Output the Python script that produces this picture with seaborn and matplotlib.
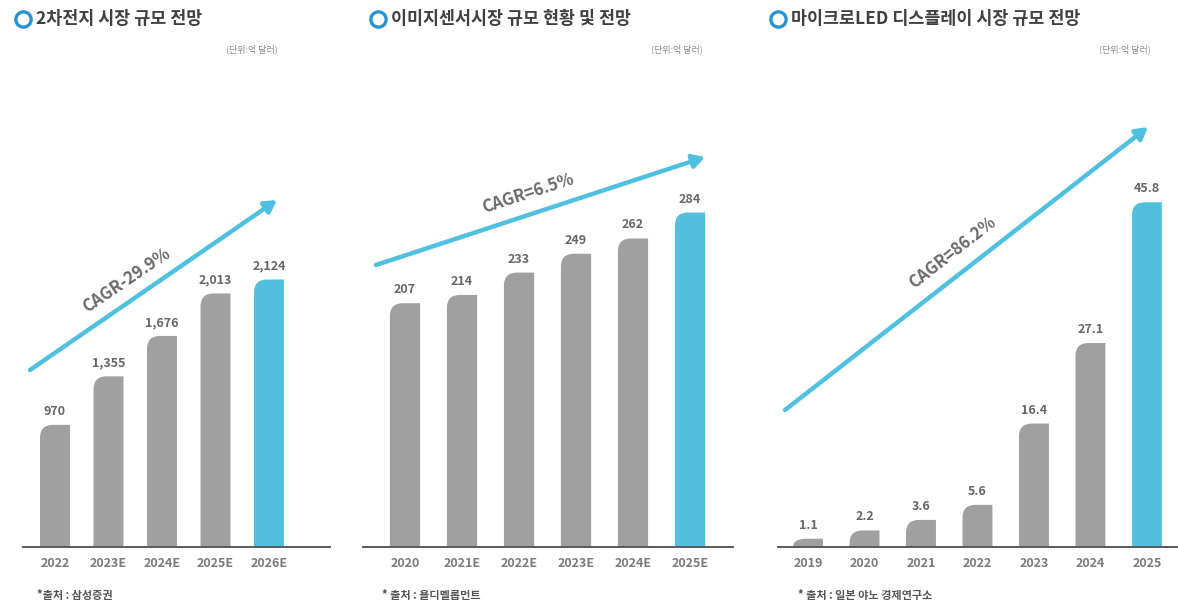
import matplotlib
matplotlib.use('Agg')
import matplotlib.pyplot as plt
import seaborn as sns
import pandas as pd
from matplotlib.patches import FancyArrowPatch, PathPatch
from matplotlib.path import Path
from matplotlib.lines import Line2D

# ---- data ----
battery_years = ['2022', '2023E', '2024E', '2025E', '2026E']
battery_values = [970, 1355, 1676, 2013, 2124]

sensor_years = ['2020', '2021E', '2022E', '2023E', '2024E', '2025E']
sensor_values = [207, 214, 233, 249, 262, 284]

microled_years = ['2019', '2020', '2021', '2022', '2023', '2024', '2025']
microled_values = [1.1, 2.2, 3.6, 5.6, 16.4, 27.1, 45.8]

titles = ['2차전지 시장 규모 전망', '이미지센서시장 규모 현황 및 전망', '마이크로LED 디스플레이 시장 규모 전망']
sources = ['*출처 : 삼성증권', '* 출처 : 욜디벨롭먼트', '* 출처 : 일본 야노 경제연구소']
cagr_labels = ['CAGR-29.9%', 'CAGR=6.5%', 'CAGR=86.2%']
unit_label = '(단위:억 달러)'

GRAY = '#a0a0a0'
BLUE = '#52bfde'
ARROW = '#4fc0e0'

sns.set_style('white')
plt.rcParams['font.family'] = ['Noto Sans CJK KR', 'DejaVu Sans']

W, H = 1178, 604
fig = plt.figure(figsize=(W / 100, H / 100), dpi=100)


def fx(x):
    return x / W


def fy(y):
    return 1 - y / H


def px(x, y):
    return (fx(x), fy(y))


base = 547
top = 60
panels = [
    # years, values, axis left/right px, xlim, ylim top, width, fmt
    (battery_years, battery_values, 23, 330, (-0.598, 5.14), 3867, 0.56, '{:,.0f}'),
    (sensor_years, sensor_values, 363, 733, (-0.737, 5.754), 413.5, 0.53, '{:.0f}'),
    (microled_years, microled_values, 778, 1178, (-0.531, 6.55), 64.7, 0.53, '{:.1f}'),
]

for years, values, xl, xr, xlim, ytop, width, fmt in panels:
    ax = fig.add_axes([fx(xl), fy(base), (xr - xl) / W, (base - top) / H])
    df = pd.DataFrame({'year': years, 'value': values})
    colors = [GRAY] * (len(years) - 1) + [BLUE]
    sns.barplot(data=df, x='year', y='value', hue='year', palette=colors,
                width=width, legend=False, ax=ax, saturation=1)
    ax.set_xlim(*xlim)
    ax.set_ylim(0, ytop)
    ax.set_xlabel('')
    ax.set_ylabel('')
    ax.set_yticks([])
    for s in ['top', 'right', 'left']:
        ax.spines[s].set_visible(False)
    ax.spines['bottom'].set_color('#5a5a5a')
    ax.spines['bottom'].set_linewidth(1.4)
    ax.tick_params(axis='x', length=0, pad=7)
    for lab in ax.get_xticklabels():
        lab.set_fontsize(9)
        lab.set_fontweight('bold')
        lab.set_color('#7a7a7a')

    for cont in ax.containers:
        ax.bar_label(cont, labels=[fmt.format(v) for v in cont.datavalues],
                     padding=5, fontsize=9, fontweight='bold', color='#666666')

    # round the top-left corner of each bar
    p0 = ax.transData.transform((0, 0))
    p1 = ax.transData.transform((1, 1))
    sx, sy = p1[0] - p0[0], p1[1] - p0[1]
    r = 13
    for bar in list(ax.patches):
        x0, w, h = bar.get_x(), bar.get_width(), bar.get_height()
        dx = min(r / sx, w / 2)
        dy = min(r / sy, h)
        verts = [(x0, 0), (x0, h - dy), (x0, h), (x0 + dx, h),
                 (x0 + w, h), (x0 + w, 0), (x0, 0)]
        codes = [Path.MOVETO, Path.LINETO, Path.CURVE3, Path.CURVE3,
                 Path.LINETO, Path.LINETO, Path.CLOSEPOLY]
        ax.add_patch(PathPatch(Path(verts, codes), facecolor=bar.get_facecolor(),
                               edgecolor='none', zorder=bar.get_zorder()))
        bar.set_visible(False)

# titles with ring markers
title_pos = [(15, 36), (370, 391), (770, 791)]
for (cx, tx), t in zip(title_pos, titles):
    fig.add_artist(Line2D([fx(cx + 8)], [fy(19)], marker='o', markersize=11,
                          markerfacecolor='white', markeredgecolor='#2a93cf',
                          markeredgewidth=2.4, transform=fig.transFigure))
    fig.text(fx(tx), fy(19), t, fontsize=12.5, fontweight='bold', color='#404040',
             ha='left', va='center')

for ux in [252, 677, 1125]:
    fig.text(fx(ux), fy(49), unit_label, fontsize=6.5, color='#8a8a8a',
             ha='center', va='center')

for sx_, s in zip([37, 382, 798], sources):
    fig.text(fx(sx_), fy(596), s, fontsize=8, fontweight='bold', color='#555555',
             ha='left', va='center')

# growth arrows
arrows = [((30, 370), (277, 200)), ((376, 265), (705, 157)), ((785, 410), (1148, 127))]
for a, b in arrows:
    fig.add_artist(FancyArrowPatch(px(*a), px(*b), transform=fig.transFigure,
                                   arrowstyle='-|>,head_length=7,head_width=4',
                                   color=ARROW, linewidth=3.2, shrinkA=0, shrinkB=0))

cagr_pos = [((127, 280), 34), ((528, 193), 18), ((953, 253), 38)]
for ((x, y), rot), t in zip(cagr_pos, cagr_labels):
    fig.text(fx(x), fy(y), t, fontsize=12, fontweight='bold', color='#6a6a6a',
             rotation=rot, ha='center', va='center', rotation_mode='anchor')

fig.savefig('out.png', dpi=100, facecolor='white')
